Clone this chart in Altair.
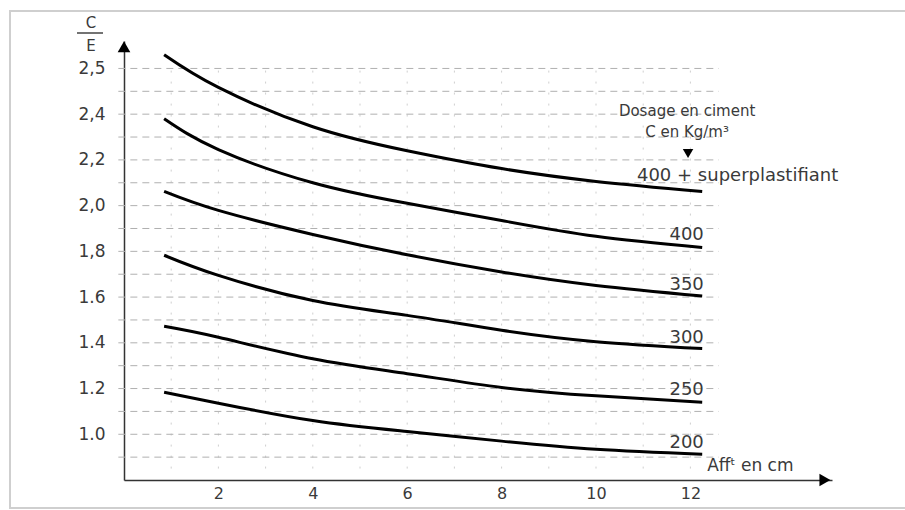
import altair as alt
import pandas as pd

# ---- data ----
aff = [0.85, 2, 4, 6, 8, 10, 12.25]
series_names = ["400 + superplastifiant", "400", "350", "300", "250", "200"]
ce_400sp = [2.66, 2.517, 2.345, 2.24, 2.162, 2.106, 2.062]
ce_400 = [2.38, 2.245, 2.10, 2.01, 1.935, 1.866, 1.817]
ce_350 = [2.062, 1.979, 1.874, 1.785, 1.71, 1.651, 1.605]
ce_300 = [1.783, 1.695, 1.585, 1.52, 1.455, 1.405, 1.375]
ce_250 = [1.472, 1.424, 1.33, 1.265, 1.205, 1.168, 1.14]
ce_200 = [1.184, 1.136, 1.06, 1.012, 0.97, 0.934, 0.913]

x_ticks = [2, 4, 6, 8, 10, 12]
y_ticks = [1.0, 1.2, 1.4, 1.6, 1.8, 2.0, 2.2, 2.4, 2.6]
y_tick_labels = ["1.0", "1.2", "1.4", "1.6", "1,8", "2,0", "2,2", "2,4", "2,5"]

grid_y = [0.9, 1.0, 1.1, 1.2, 1.3, 1.4, 1.5, 1.6, 1.7, 1.8, 1.9, 2.0, 2.1,
          2.2, 2.3, 2.4, 2.5, 2.6]
grid_x = [1, 2, 3, 4, 5, 6, 7, 8, 9, 10, 11, 12]

curve_labels = ["400", "350", "300", "250", "200"]
curve_label_y = [1.87, 1.651, 1.42, 1.192, 0.96]
curve_label_x = 11.92
sp_label = "400 + superplastifiant"
sp_label_x = 13.0
sp_label_y = 2.128

legend_lines = ["Dosage en ciment", "C en Kg/m³"]
legend_y = [2.412, 2.322]
legend_x = 11.93

x_title_text = "Affᵗ en cm"
x_title_x = 13.27
x_title_y = 0.86

FONT = "DejaVu Sans"
TXT = "#3a3a3a"

rows = []
for name, vals in zip(series_names, [ce_400sp, ce_400, ce_350, ce_300, ce_250, ce_200]):
    for a, v in zip(aff, vals):
        rows.append({"serie": name, "aff": a, "ce": v})
df = pd.DataFrame(rows)

xs = alt.Scale(domain=[0, 15], nice=False, zero=False)
ys = alt.Scale(domain=[0.8, 2.72], nice=False, zero=False)

label_expr = ""
for i, (v, lab) in enumerate(zip(y_ticks, y_tick_labels)):
    if i < len(y_ticks) - 1:
        label_expr += f"datum.value < {v + 0.1:.2f} ? '{lab}' : "
    else:
        label_expr += f"'{lab}'"

X_AXIS = alt.Axis(
    values=x_ticks, title=None, grid=False, ticks=False,
    domainColor="#333", domainWidth=1.5, labelPadding=5,
    labelFontSize=16, labelFont=FONT, labelColor=TXT)
Y_AXIS = alt.Axis(
    values=y_ticks, title=None, grid=False, ticks=False,
    domainColor="#333", domainWidth=1.5, labelPadding=19,
    labelFontSize=17, labelFont=FONT, labelColor=TXT,
    labelExpr=label_expr)

def X(f):
    return alt.X(f, scale=xs, axis=X_AXIS)

def Y(f):
    return alt.Y(f, scale=ys, axis=Y_AXIS)

# gridlines
hgrid_df = pd.DataFrame({"g": grid_y, "x1": [-0.12] * len(grid_y), "x2": [12.6] * len(grid_y)})
hgrid = alt.Chart(hgrid_df).mark_rule(
    color="#b0b0b0", strokeWidth=1, strokeDash=[7, 5]
).encode(y=Y("g:Q"), x=X("x1:Q"), x2="x2:Q")

vgrid_df = pd.DataFrame({"g": grid_x, "y1": [0.85] * len(grid_x), "y2": [2.62] * len(grid_x)})
vgrid = alt.Chart(vgrid_df).mark_rule(
    color="#cfcfcf", strokeWidth=1, strokeDash=[2, 9]
).encode(x=X("g:Q"), y=Y("y1:Q"), y2="y2:Q")

lines = alt.Chart(df).mark_line(
    color="black", strokeWidth=3, interpolate="natural"
).encode(x=X("aff:Q"), y=Y("ce:Q"), detail="serie:N")

def text_layer(texts, xv, yv, align, size):
    d = pd.DataFrame({"t": texts, "x": xv, "y": yv})
    return alt.Chart(d).mark_text(
        align=align, baseline="middle", fontSize=size, font=FONT, color=TXT
    ).encode(x=X("x:Q"), y=Y("y:Q"), text="t:N")

labels = text_layer(curve_labels, [curve_label_x] * len(curve_labels), curve_label_y, "center", 18)
sp = text_layer([sp_label], [sp_label_x], [sp_label_y], "center", 18)
legend = text_layer(legend_lines, [legend_x] * 2, legend_y, "center", 15)
x_title = text_layer([x_title_text], [x_title_x], [x_title_y], "center", 17)

def point_layer(xv, yv, shape, size):
    d = pd.DataFrame({"x": xv, "y": yv})
    return alt.Chart(d).mark_point(
        shape=shape, filled=True, color="black", size=size, opacity=1
    ).encode(x=X("x:Q"), y=Y("y:Q"))

tri = point_layer([11.95], [2.228], "triangle-down", 110)
arrow_y = point_layer([0], [2.695], "triangle-up", 160)
arrow_x = point_layer([14.85], [0.8], "triangle-right", 160)

y_title_e = alt.Chart(pd.DataFrame({"t": ["E"]})).mark_text(
    align="center", baseline="middle", fontSize=15, font=FONT, color=TXT
).encode(x=alt.value(-33), y=alt.value(5), text="t:N")
y_title_c = alt.Chart(pd.DataFrame({"t": ["C"]})).mark_text(
    align="center", baseline="middle", fontSize=15, font=FONT, color=TXT
).encode(x=alt.value(-33), y=alt.value(-18), text="t:N")
y_title_bar = alt.Chart(pd.DataFrame({"t": ["bar"]})).mark_rule(
    color="#444", strokeWidth=1.5
).encode(x=alt.value(-47), x2=alt.value(-21), y=alt.value(-8))

frame = alt.Chart(pd.DataFrame({"t": ["frame"]})).mark_rect(
    fill="white", fillOpacity=0, stroke="#cfcfcf", strokeWidth=2
).encode(x=alt.value(-114), x2=alt.value(800), y=alt.value(-30), y2=alt.value(467))

chart = alt.layer(
    frame, vgrid, hgrid, lines, labels, sp, legend, tri, arrow_y, arrow_x,
    x_title, y_title_e, y_title_c, y_title_bar
).properties(
    width=708, height=439,
    autosize=alt.AutoSizeParams(type="none"),
    padding={"left": 124, "top": 41, "right": 73, "bottom": 30},
    background="white",
).configure_view(stroke=None)

chart.save("out.html", embed_options={"renderer": "svg", "actions": False})
